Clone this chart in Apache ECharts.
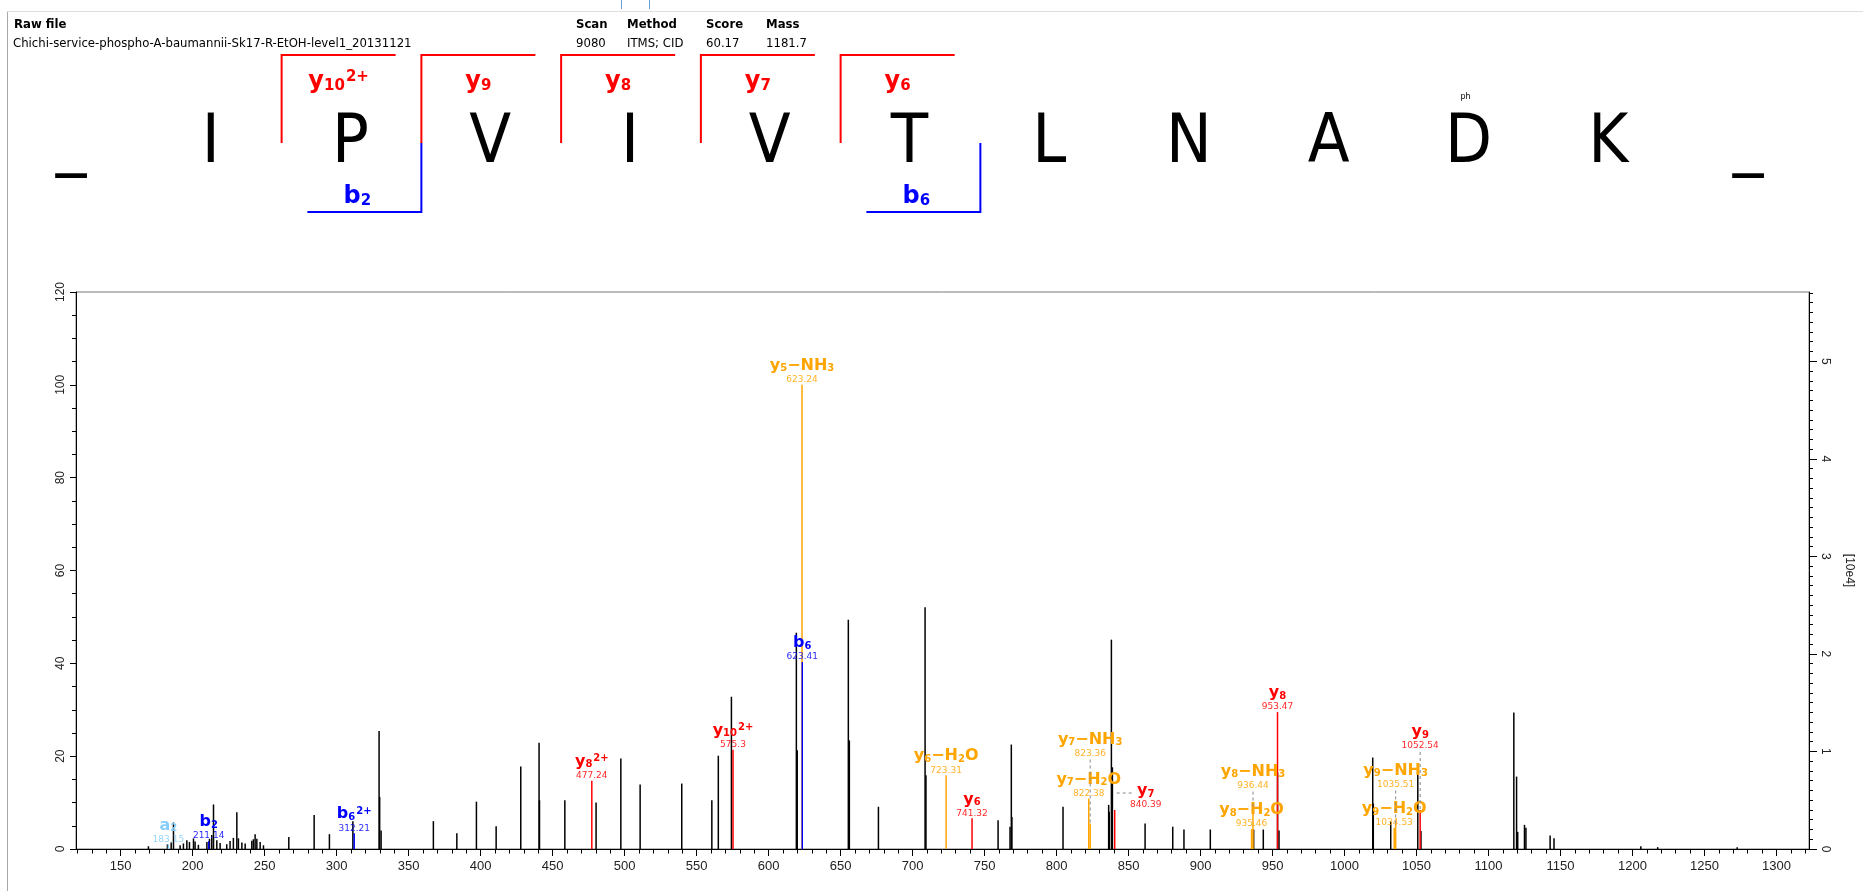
<!DOCTYPE html>
<html><head><meta charset="utf-8">
<script src="https://cdn.jsdelivr.net/npm/echarts@6/dist/echarts.min.js"></script>
<style>html,body{margin:0;padding:0;background:#fff}#c{width:1863px;height:891px}</style>
</head><body><div id="c"></div><script>
// ================= DATA =================
const rawFile = 'Chichi-service-phospho-A-baumannii-Sk17-R-EtOH-level1_20131121';
const headerKeys = ['Scan', 'Method', 'Score', 'Mass'];
const headerVals = ['9080', 'ITMS; CID', '60.17', '1181.7'];

const sequence = ['_', 'I', 'P', 'V', 'I', 'V', 'T', 'L', 'N', 'A', 'D', 'K', '_'];
const modSite = 10;          // index of phosphorylated residue (D)
const modLabel = 'ph';
const yBracketAfter = [1, 2, 3, 4, 5];
const yBracketNum = ['10', '9', '8', '7', '6'];
const yBracketCharge = ['2+', '', '', '', ''];
const bBracketAfter = [2, 6];
const bBracketNum = ['2', '6'];

// unassigned peaks (m/z, relative intensity %)
const peakMz = [169.3, 182.5, 185.1, 186.7, 191.3, 193.6, 196.0, 197.8, 200.6, 201.7, 204.0, 209.9, 211.7, 213.3, 214.5,
  216.8, 219.1, 223.7, 226.0, 228.3, 230.7, 231.8, 234.2, 236.5, 241.1, 242.2, 243.4, 244.6, 246.9, 249.2,
  266.8, 284.4, 295.0, 311.3, 329.5, 329.9, 330.9, 367.2, 383.5, 397.1, 410.8, 427.9, 440.6, 440.9,
  458.5, 480.2, 497.4, 510.8, 539.7, 560.6, 565.1, 574.2, 619.3, 619.9, 655.4, 656.1, 676.3, 708.7, 709.3,
  759.4, 767.7, 768.6, 769.0, 804.5, 836.2, 836.6, 838.1, 838.8, 861.5, 880.7, 888.5, 906.8, 936.9, 943.6,
  953.5, 954.5, 1019.6, 1020.0, 1032.1, 1050.9, 1053.1, 1117.6, 1119.5, 1120.3, 1125.0, 1126.0, 1142.8, 1145.5,
  1205.8, 1217.5, 1272.7];
const peakInt = [0.6, 1.0, 1.4, 5.7, 0.8, 1.2, 1.9, 1.5, 2.3, 1.6, 0.9, 1.5, 2.2, 3.0, 9.6,
  1.9, 1.3, 1.0, 1.7, 2.4, 7.9, 2.3, 1.4, 1.2, 1.8, 2.1, 3.2, 2.2, 1.5, 0.8,
  2.6, 7.3, 3.2, 6.0, 25.4, 11.2, 4.0, 6.0, 3.4, 10.2, 4.9, 17.8, 22.9, 10.5,
  10.5, 10.0, 19.5, 13.9, 14.1, 10.5, 20.1, 32.8, 46.6, 21.3, 49.4, 23.4, 9.1, 52.1, 15.9,
  6.2, 4.8, 22.5, 6.9, 9.1, 9.5, 8.0, 45.1, 17.6, 5.5, 4.8, 4.2, 4.2, 4.2, 4.2,
  16.4, 4.0, 19.7, 9.8, 5.9, 16.1, 3.9, 29.4, 15.6, 3.7, 5.2, 4.6, 2.9, 2.3,
  0.6, 0.4, 0.4];

// annotated fragment ions
const ionBase   = ['a', 'b', 'b', 'y', 'y', 'y', 'b', 'y', 'y', 'y', 'y', 'y', 'y', 'y', 'y', 'y', 'y', 'y'];
const ionNum    = ['2', '2', '6', '8', '10', '5', '6', '6', '6', '7', '7', '7', '8', '8', '8', '9', '9', '9'];
const ionCharge = ['', '', '2+', '2+', '2+', '', '', '', '', '', '', '', '', '', '', '', '', ''];
const ionLoss   = ['', '', '', '', '', 'NH3', '', 'H2O', '', 'H2O', 'NH3', '', 'H2O', 'NH3', '', 'H2O', 'NH3', ''];
const ionMz     = [183.15, 211.14, 312.21, 477.24, 575.3, 623.24, 623.41, 723.31, 741.32, 822.38, 823.36, 840.39,
  935.46, 936.44, 953.47, 1034.53, 1035.51, 1052.54];
const ionInt    = [1.0, 1.7, 3.4, 14.7, 21.4, 100, 40.3, 15.9, 6.6, 10.9, 5.5, 8.4, 4.3, 8.7, 29.5, 4.5, 5.5, 8.4];

const xTickLabels = [150, 200, 250, 300, 350, 400, 450, 500, 550, 600, 650, 700, 750, 800, 850, 900, 950,
  1000, 1050, 1100, 1150, 1200, 1250, 1300];
const rightTickLabels = [0, 1, 2, 3, 4, 5];
const rightAxisName = '[10e4]';

// ================= LAYOUT / STYLE =================
const X_MIN = 119, X_MAX = 1322.6, RIGHT_MAX = 5.71;
const COLORS = { y: '#ff0000', b: '#0000ff', a: '#87cefa', loss: '#ffa500', peak: '#000000' };
// label displacement (px) for crowded annotations, keyed by index into ion arrays
const labelShift = { 10: [0, -65], 11: [31, 0], 13: [0, -18], 16: [0, -34], 17: [0, -59] };
const FONT = '"DejaVu Sans", Verdana, sans-serif';
const SEQ_FONT = '68px "Liberation Sans Narrow", "DejaVu Sans Condensed", "Liberation Sans", sans-serif';

const minorX = [];
for (let v = 120; v <= 1320; v += 10) if (v % 50 !== 0) minorX.push(v);
const minorR = [];
for (let k = 1; k <= 57; k++) if (k % 10 !== 0) minorR.push(+(k / 10).toFixed(1));

function ionColor(i) {
  if (ionLoss[i]) return COLORS.loss;
  return COLORS[ionBase[i]];
}
function ionText(base, num, charge, loss) {
  let s = '{m|' + base + '}{s|' + num + '}';
  if (charge) s += '{p|' + charge + '}';
  if (loss === 'NH3') s += '{m|−NH}{s|3}';
  if (loss === 'H2O') s += '{m|−H}{s|2}{m|O}';
  return s;
}
function richFor(color, main, sub) {
  return {
    m: { font: 'bold ' + main + 'px ' + FONT, fill: color },
    s: { font: 'bold ' + sub + 'px ' + FONT, fill: color, verticalAlign: 'bottom' },
    p: { font: 'bold ' + sub + 'px ' + FONT, fill: color, verticalAlign: 'top', padding: [0, 0, 0, 1] }
  };
}

// ================= GRAPHIC (header + sequence) =================
const SEQ_X0 = 71, SEQ_STEP = 139.75, SEQ_Y = 144;
const graphics = [];
graphics.push({ type: 'line', shape: { x1: 7.5, y1: 11, x2: 7.5, y2: 891 }, style: { stroke: '#a8a8a8', lineWidth: 1 } });
graphics.push({ type: 'line', shape: { x1: 7, y1: 11.5, x2: 1863, y2: 11.5 }, style: { stroke: '#dedede', lineWidth: 1 } });
graphics.push({ type: 'line', shape: { x1: 621.5, y1: 0, x2: 621.5, y2: 9 }, style: { stroke: '#6a9fd8', lineWidth: 1 } });
graphics.push({ type: 'line', shape: { x1: 649.5, y1: 0, x2: 649.5, y2: 9 }, style: { stroke: '#6a9fd8', lineWidth: 1 } });
graphics.push({ type: 'text', x: 14, y: 25, style: { text: 'Raw file', font: 'bold 13px "DejaVu Sans Condensed", ' + FONT, fill: '#000', verticalAlign: 'middle' } });
graphics.push({ type: 'text', x: 13, y: 44, style: { text: rawFile, font: '13px "DejaVu Sans Condensed", ' + FONT, fill: '#000', verticalAlign: 'middle' } });
const headerX = [576, 627, 706, 766];
headerKeys.forEach((k, i) => {
  graphics.push({ type: 'text', x: headerX[i], y: 25, style: { text: k, font: 'bold 13px "DejaVu Sans Condensed", ' + FONT, fill: '#000', verticalAlign: 'middle' } });
  graphics.push({ type: 'text', x: headerX[i], y: 44, style: { text: headerVals[i], font: '13px "DejaVu Sans Condensed", ' + FONT, fill: '#000', verticalAlign: 'middle' } });
});
sequence.forEach((ch, i) => {
  graphics.push({ type: 'text', x: SEQ_X0 + i * SEQ_STEP, y: SEQ_Y, style: { text: ch, font: SEQ_FONT, fill: '#000', align: 'center', verticalAlign: 'middle' } });
});
graphics.push({ type: 'text', x: SEQ_X0 + modSite * SEQ_STEP - 3, y: 97, style: { text: modLabel, font: '8px ' + FONT, fill: '#000', align: 'center', verticalAlign: 'middle' } });
yBracketAfter.forEach((idx, k) => {
  const vx = SEQ_X0 + (idx + 0.5) * SEQ_STEP + 1;
  graphics.push({ type: 'polyline', shape: { points: [[vx, 143], [vx, 55], [vx + 114, 55]] }, style: { stroke: COLORS.y, lineWidth: 2, fill: null } });
  graphics.push({ type: 'text', x: vx + 57, y: 82, style: { text: ionText('y', yBracketNum[k], yBracketCharge[k], ''), rich: richFor(COLORS.y, 24, 15), align: 'center', verticalAlign: 'middle' } });
});
bBracketAfter.forEach((idx, k) => {
  const vx = SEQ_X0 + (idx + 0.5) * SEQ_STEP + 1;
  graphics.push({ type: 'polyline', shape: { points: [[vx, 143], [vx, 212], [vx - 114, 212]] }, style: { stroke: COLORS.b, lineWidth: 2, fill: null } });
  graphics.push({ type: 'text', x: vx - 64, y: 197, style: { text: ionText('b', bBracketNum[k], '', ''), rich: richFor(COLORS.b, 24, 15), align: 'center', verticalAlign: 'middle' } });
});

// ================= CHART =================
const chart = echarts.init(document.getElementById('c'));
const axisLabelStyle = { color: '#222', fontFamily: '"Liberation Sans", Arial, sans-serif', fontSize: 12 };

function stickRender(colorFn) {
  return function (params, api) {
    const x = api.value(0), v = api.value(1);
    const p0 = api.coord([x, 0]), p1 = api.coord([x, v]);
    return { type: 'line', shape: { x1: p0[0], y1: p0[1], x2: p1[0], y2: p1[1] },
      style: { stroke: colorFn(params.dataIndex), lineWidth: 1.5 } };
  };
}

chart.setOption({
  animation: false,
  backgroundColor: '#fff',
  graphic: graphics,
  grid: { left: 76, right: 54, top: 292, bottom: 42, show: true, borderColor: '#777', borderWidth: 1 },
  xAxis: [{
    type: 'value', min: X_MIN, max: X_MAX, position: 'bottom',
    axisLine: { show: true, lineStyle: { color: '#000', width: 1 } },
    axisTick: { show: true, customValues: xTickLabels, length: 7, lineStyle: { color: '#000' } },
    axisLabel: { customValues: xTickLabels, margin: 11, ...axisLabelStyle, fontSize: 13, formatter: v => String(v) },
    splitLine: { show: false }
  }, {
    type: 'value', min: X_MIN, max: X_MAX, position: 'bottom',
    axisLine: { show: false },
    axisTick: { show: true, customValues: minorX, length: 4.5, lineStyle: { color: '#000' } },
    axisLabel: { show: false }, splitLine: { show: false }
  }],
  yAxis: [{
    type: 'value', min: 0, max: 120, interval: 20, position: 'left',
    axisLine: { show: true, lineStyle: { color: '#000' } },
    axisTick: { show: true, length: 6, lineStyle: { color: '#000' } },
    minorTick: { show: true, splitNumber: 4, length: 4, lineStyle: { color: '#000' } },
    axisLabel: { rotate: 90, margin: 9, ...axisLabelStyle },
    splitLine: { show: false }
  }, {
    type: 'value', min: 0, max: RIGHT_MAX, position: 'right',
    name: rightAxisName, nameLocation: 'middle', nameRotate: -90, nameGap: 34,
    nameTextStyle: { color: '#222', fontFamily: '"Liberation Sans", Arial, sans-serif', fontSize: 12 },
    axisLine: { show: true, lineStyle: { color: '#000' } },
    axisTick: { show: true, customValues: rightTickLabels, length: 8, lineStyle: { color: '#000' } },
    axisLabel: { customValues: rightTickLabels, rotate: -90, margin: 10, ...axisLabelStyle },
    splitLine: { show: false }
  }, {
    type: 'value', min: 0, max: RIGHT_MAX, position: 'right',
    axisLine: { show: false },
    axisTick: { show: true, customValues: minorR, length: 4, lineStyle: { color: '#000' } },
    axisLabel: { show: false }, splitLine: { show: false }
  }],
  series: [{
    type: 'custom', name: 'peaks', xAxisIndex: 0, yAxisIndex: 0, clip: true, z: 2,
    data: peakMz.map((m, i) => [m, peakInt[i]]),
    renderItem: stickRender(() => COLORS.peak)
  }, {
    type: 'custom', name: 'ions', xAxisIndex: 0, yAxisIndex: 0, clip: true, z: 3,
    data: ionMz.map((m, i) => [m, ionInt[i]]),
    renderItem: stickRender(i => ionColor(i))
  }, {
    type: 'custom', name: 'ionLabels', xAxisIndex: 0, yAxisIndex: 0, clip: false, z: 4,
    data: ionMz.map((m, i) => [m, ionInt[i]]),
    renderItem: function (params, api) {
      const i = params.dataIndex;
      const p = api.coord([api.value(0), api.value(1)]);
      const sh = labelShift[i] || [0, 0];
      const col = ionColor(i);
      const cx = p[0] + sh[0], ly = p[1] - 19 + sh[1], my = p[1] - 5 + sh[1];
      const children = [
        { type: 'text', x: cx, y: ly, style: { text: ionText(ionBase[i], ionNum[i], ionCharge[i], ionLoss[i]), rich: richFor(col, 16, 10), align: 'center', verticalAlign: 'middle' } },
        { type: 'text', x: cx, y: my, style: { text: String(ionMz[i]), font: '9px ' + FONT, fill: col, opacity: 0.85, align: 'center', verticalAlign: 'middle' } }
      ];
      if (sh[1] !== 0) {
        children.push({ type: 'line', shape: { x1: p[0], y1: my + 6, x2: p[0], y2: p[1] }, style: { stroke: '#888', lineWidth: 1, lineDash: [3, 3] } });
      }
      if (sh[0] !== 0) {
        children.push({ type: 'line', shape: { x1: p[0] + 2, y1: ly + 2, x2: cx - 13, y2: ly + 2 }, style: { stroke: '#888', lineWidth: 1, lineDash: [3, 3] } });
      }
      return { type: 'group', children: children };
    }
  }]
});
</script></body></html>
